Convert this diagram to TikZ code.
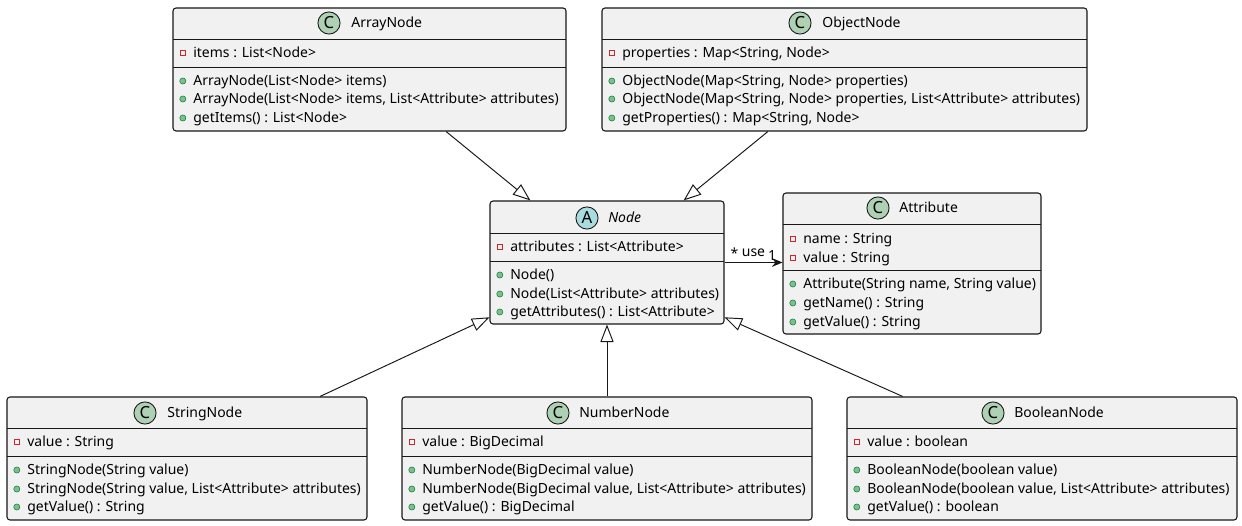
\documentclass[tikz,border=0pt]{standalone}
\usepackage{fontspec}
\setmainfont{Noto Sans}
\usetikzlibrary{arrows.meta, fit}

\definecolor{umlline}{HTML}{181818}
\definecolor{boxfill}{HTML}{F1F1F1}
\definecolor{clsgreen}{HTML}{ADD1B2}
\definecolor{absblue}{HTML}{A9DCDF}
\definecolor{privred}{HTML}{C82930}
\definecolor{pubfill}{HTML}{84BE84}
\definecolor{publine}{HTML}{038048}

\begin{document}
\begin{tikzpicture}[x=0.02cm, y=-0.02cm]\fontsize{7.95pt}{9.5pt}\selectfont
	\tikzstyle{every node}+=[inner sep=0pt]
	\tikzstyle{umlbox}=[draw=umlline, fill=boxfill, line width=0.6pt, rounded corners=1.7pt]
	\tikzstyle{sep}=[draw=umlline, line width=0.5pt]
	\tikzstyle{member}=[anchor=west, text height=5.6pt, text depth=0pt]
	\tikzstyle{privbox}=[rectangle, draw=privred, line width=0.5pt, minimum size=3pt]
	\tikzstyle{pubdot}=[circle, draw=publine, fill=pubfill, line width=0.3pt, minimum size=3.5pt]
	\tikzstyle{priv}=[member, label={[privbox, label distance=4.1pt]left:{}}]
	\tikzstyle{pub}=[member, label={[pubdot, label distance=3.9pt]left:{}}]
	\tikzstyle{classicon}=[circle, draw=umlline, line width=0.5pt, fill=clsgreen, minimum size=12.6pt, font=\fontsize{9.5pt}{10pt}\selectfont\bfseries]
	\tikzstyle{absicon}=[classicon, fill=absblue]
	\tikzstyle{extends}=[draw=umlline, line width=0.55pt, -{Triangle[open, fill=white, length=10pt, width=7.5pt]}]
	\tikzstyle{uses}=[draw=umlline, line width=0.55pt, -{Stealth[length=6pt, width=5pt, inset=2pt]}]
	\fill [white] (0,0) rectangle (1242,526);
	\useasboundingbox (0,0) rectangle (1242,526);
	% ArrayNode
	\node [umlbox, fit={(173,8) (566,131)}] (arr) {};
	\draw [sep] (173,39) -- (566,39);
	\draw [sep] (173,67) -- (566,67);
	\node [classicon] (arricon) at (329,23) {C};
	\node [member] (arrname) at (351,23) {ArrayNode};
	\node [priv] (arr1) at (193,53) {items : List<Node>};
	\node [pub] (arr2) at (193,81) {ArrayNode(List<Node> items)};
	\node [pub] (arr3) at (193,99) {ArrayNode(List<Node> items, List<Attribute> attributes)};
	\node [pub] (arr4) at (193,118) {getItems() : List<Node>};
	% ObjectNode
	\node [umlbox, fit={(602,8) (1087,131)}] (obj) {};
	\draw [sep] (602,39) -- (1087,39);
	\draw [sep] (602,67) -- (1087,67);
	\node [classicon] (objicon) at (800,23) {C};
	\node [member] (objname) at (822,23) {ObjectNode};
	\node [priv] (obj1) at (622,53) {properties : Map<String, Node>};
	\node [pub] (obj2) at (622,81) {ObjectNode(Map<String, Node> properties)};
	\node [pub] (obj3) at (622,99) {ObjectNode(Map<String, Node> properties, List<Attribute> attributes)};
	\node [pub] (obj4) at (622,118) {getProperties() : Map<String, Node>};
	% Node
	\node [umlbox, fit={(490,201) (724,324)}] (nd) {};
	\draw [sep] (490,233) -- (724,233);
	\draw [sep] (490,261) -- (724,261);
	\node [absicon] (ndicon) at (587,218) {A};
	\node [member] (ndname) at (608,218) {\itshape Node};
	\node [priv] (nd1) at (510,247) {attributes : List<Attribute>};
	\node [pub] (nd2) at (510,275) {Node()};
	\node [pub] (nd3) at (510,294) {Node(List<Attribute> attributes)};
	\node [pub] (nd4) at (510,312) {getAttributes() : List<Attribute>};
	% Attribute
	\node [umlbox, fit={(783,193) (1041,334)}] (attr) {};
	\draw [sep] (783,224) -- (1041,224);
	\draw [sep] (783,270) -- (1041,270);
	\node [classicon] (attricon) at (878,208) {C};
	\node [member] (attrname) at (899,208) {Attribute};
	\node [priv] (attr1) at (803,239) {name : String};
	\node [priv] (attr2) at (803,258) {value : String};
	\node [pub] (attr3) at (803,284) {Attribute(String name, String value)};
	\node [pub] (attr4) at (803,303) {getName() : String};
	\node [pub] (attr5) at (803,322) {getValue() : String};
	% StringNode
	\node [umlbox, fit={(7,397) (367,520)}] (str) {};
	\draw [sep] (7,428) -- (367,428);
	\draw [sep] (7,456) -- (367,456);
	\node [classicon] (stricon) at (145,413) {C};
	\node [member] (strname) at (167,413) {StringNode};
	\node [priv] (str1) at (27,442) {value : String};
	\node [pub] (str2) at (27,470) {StringNode(String value)};
	\node [pub] (str3) at (27,489) {StringNode(String value, List<Attribute> attributes)};
	\node [pub] (str4) at (27,507) {getValue() : String};
	% NumberNode
	\node [umlbox, fit={(402,397) (812,520)}] (num) {};
	\draw [sep] (402,428) -- (812,428);
	\draw [sep] (402,456) -- (812,456);
	\node [classicon] (numicon) at (558,413) {C};
	\node [member] (numname) at (579,413) {NumberNode};
	\node [priv] (num1) at (422,442) {value : BigDecimal};
	\node [pub] (num2) at (422,470) {NumberNode(BigDecimal value)};
	\node [pub] (num3) at (422,489) {NumberNode(BigDecimal value, List<Attribute> attributes)};
	\node [pub] (num4) at (422,507) {getValue() : BigDecimal};
	% BooleanNode
	\node [umlbox, fit={(847,397) (1237,520)}] (bool) {};
	\draw [sep] (847,428) -- (1237,428);
	\draw [sep] (847,456) -- (1237,456);
	\node [classicon] (boolicon) at (993,413) {C};
	\node [member] (boolname) at (1014,413) {BooleanNode};
	\node [priv] (bool1) at (867,442) {value : boolean};
	\node [pub] (bool2) at (867,470) {BooleanNode(boolean value)};
	\node [pub] (bool3) at (867,489) {BooleanNode(boolean value, List<Attribute> attributes)};
	\node [pub] (bool4) at (867,507) {getValue() : boolean};
	% relations
	\draw [extends] (arr.-39) -- (nd.141);
	\draw [extends] (obj.219) -- (nd.39);
	\draw [extends] (str.25) -- (nd.205);
	\draw [extends] (num.north) -- (nd.south);
	\draw [extends] (bool.156) -- (nd.-25);
	\draw [uses] (nd.east) -- node[pos=0.17, above=2pt] (many) {*} node[pos=0.5, above=3pt] (uselbl) {use} node[pos=0.82, above=1pt] (one) {1} (nd.east -| attr.west);
\end{tikzpicture}
\end{document}
